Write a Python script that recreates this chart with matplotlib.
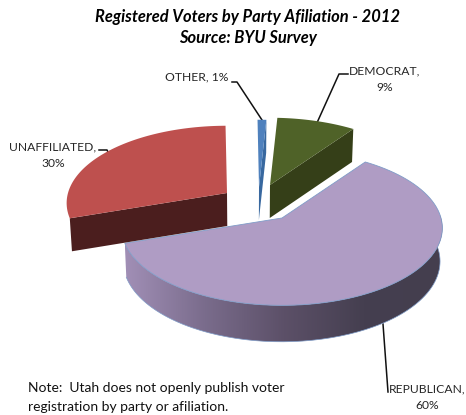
import matplotlib.pyplot as plt
from matplotlib.colors import LinearSegmentedColormap
from matplotlib.patches import Polygon
import numpy as np

plt.rcParams['font.family'] = ['Lato', 'DejaVu Sans']

# Chart data, clockwise from the first slice
parties = ['DEMOCRAT', 'REPUBLICAN', 'UNAFFILIATED', 'OTHER']
shares = [9, 60, 30, 1]

title_lines = ['Registered Voters by Party Afiliation - 2012', 'Source: BYU Survey']
note_lines = ['Note:  Utah does not openly publish voter', 'registration by party or afiliation.']

# Per slice styling, in the same order as parties
top_colors = ['#4F6228', '#AF9CC4', '#BE504E', '#4F81BD']
side_colors = ['#353F18', None, '#4B1E1E', '#38689F']
apex_points = [(270, 185), (282, 218), (227, 193), (259, 187)]
label_breaks = ['\n', '\n', '\n', ' ']
label_spots = [(385, 79), (427, 397), (53, 155), (197, 77)]
leader_paths = [
    [(348, 74), (339, 74), (316, 125)],
    [(383, 324), (388, 392)],
    [(99, 150), (107, 150), (109, 154)],
    [(232, 82), (237, 82), (262, 120)],
]

# Projection of the tilted disc
FIRST_ANGLE = 3
RADIUS_X = 159
RADIUS_Y = 76
TILT = 0.13


def rim(angles, apex):
    """
    Project clockwise angles (degrees from 12 o'clock) onto the top of a slice.
    """
    t = np.radians(angles)
    u, v = np.sin(t), np.cos(t)
    w = 1 + TILT * v
    return np.column_stack([apex[0] + RADIUS_X * u / w, apex[1] - RADIUS_Y * v / w])


def drop(points):
    """
    Move points on the top face down to the bottom of the pie.
    """
    points = np.atleast_2d(points)
    depth = 33 + 0.04 * np.maximum(points[:, 1] - 220, 0)
    x = points[:, 0] + (250 - points[:, 0]) * 0.012
    return np.column_stack([x, points[:, 1] + depth])


def run():
    figure = plt.figure(figsize=(4.66, 4.15), dpi=100)
    ax = figure.add_axes([0, 0, 1, 1])
    ax.axis('off')

    edges = FIRST_ANGLE + np.cumsum([0] + shares) * 3.6

    # Leader lines sit under the slices
    for path in leader_paths:
        xs, ys = zip(*path)
        ax.plot(xs, ys, color='#111111', linewidth=1.1, zorder=1)

    for i in [3, 0, 2, 1]:
        apex = apex_points[i]
        start, stop = edges[i], edges[i + 1]
        arc = rim(np.linspace(start, stop, 90), apex)

        if parties[i] == 'REPUBLICAN':
            # Curved outer wall, shaded from left to right
            wall_top = rim(np.linspace(stop, 88, 160), apex)
            wall_bottom = drop(wall_top)
            wall = np.vstack([wall_top, wall_bottom[::-1]])
            patch = Polygon(wall, closed=True, facecolor='none', edgecolor='none')
            ax.add_patch(patch)
            shade = LinearSegmentedColormap.from_list(
                'wall', ['#A18FB6', '#7A6C8C', '#5C5068', '#453F50', '#443E4E'])
            image = ax.imshow(
                np.linspace(0, 1, 256)[None, :],
                cmap=shade,
                extent=(wall[:, 0].min(), wall[:, 0].max(), wall[:, 1].max(), wall[:, 1].min()),
                aspect='auto',
                zorder=2 + i,
            )
            image.set_clip_path(patch)
            ax.plot(wall_bottom[:, 0], wall_bottom[:, 1], color='#7F9CC8',
                    linewidth=0.5, zorder=2 + i)
            edge_color = '#7F9CC8'
        else:
            # Flat cut face below the slice
            corner = arc[0] if parties[i] == 'UNAFFILIATED' else arc[-1]
            face = np.vstack([apex, corner, drop(corner), drop(apex)])
            ax.add_patch(Polygon(face, closed=True, facecolor=side_colors[i],
                                 edgecolor='none', zorder=2 + i))
            edge_color = 'none'

        top = np.vstack([apex, arc])
        ax.add_patch(Polygon(top, closed=True, facecolor=top_colors[i],
                             edgecolor=edge_color, linewidth=0.6, zorder=2.5 + i))

    # Slice labels
    for name, share, gap, (x, y) in zip(parties, shares, label_breaks, label_spots):
        ax.text(x, y, f'{name},{gap}{share}%', ha='center', va='center',
                fontsize=8.7, color='#262626', linespacing=1.6)

    # Title and note
    for line, y in zip(title_lines, [17, 38]):
        ax.text(248, y, line, ha='center', va='center', fontsize=11.9,
                fontweight='bold', fontstyle='italic', color='black')
    for line, y in zip(note_lines, [388, 407]):
        ax.text(28, y, line, ha='left', va='center', fontsize=10, color='#111111')

    ax.set_xlim(0, 466)
    ax.set_ylim(415, 0)
    figure.savefig('out.png', dpi=100)


if __name__ == '__main__':
    run()
